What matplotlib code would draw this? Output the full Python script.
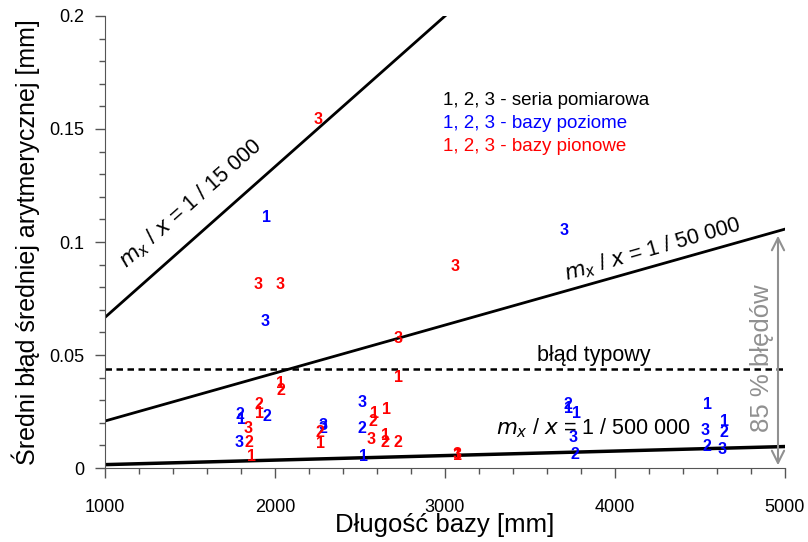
import matplotlib.pyplot as plt
from matplotlib.ticker import MultipleLocator, FormatStrFormatter

plt.rcParams['font.family'] = ['Liberation Sans', 'DejaVu Sans']

# reference lines  (mm -> mm)
line_x = [1000, 5000]
line_15k = [1000 / 15000.0, 5000 / 15000.0]
line_50k = [0.0208, 0.1057]
line_500k = [0.0015, 0.0095]
typical_err = 0.0438

# bazy poziome (blue): x, y, series number
blue_x = [1947, 1941, 3700, 1794, 1800, 1953, 1788, 2282, 2282, 2512, 2512, 2518,
          3724, 3724, 3776, 3753, 3765, 4547, 4529, 4647, 4641, 4541, 4629]
blue_y = [0.111, 0.065, 0.105, 0.0238, 0.0215, 0.023, 0.0115, 0.019, 0.0175, 0.0288, 0.0177, 0.0049,
          0.0283, 0.0265, 0.0243, 0.0137, 0.0058, 0.0283, 0.0168, 0.0204, 0.0155, 0.0093, 0.008]
blue_lab = ['1', '3', '3', '2', '1', '2', '3', '3', '2', '3', '2', '1',
            '2', '1', '1', '3', '2', '1', '3', '1', '2', '2', '3']

# bazy pionowe (red)
red_x = [2253, 1900, 2029, 3059, 2724, 2729, 2035, 2035, 1906, 1906, 1841, 1847, 1859,
         2265, 2265, 2588, 2653, 2576, 2565, 2647, 2647, 2724, 3071, 3071]
red_y = [0.154, 0.081, 0.081, 0.089, 0.0575, 0.040, 0.0375, 0.0345, 0.0283, 0.0239, 0.0173, 0.0115, 0.0053,
         0.0155, 0.011, 0.0243, 0.026, 0.0204, 0.0128, 0.0143, 0.0115, 0.0115, 0.0058, 0.0055]
red_lab = ['3', '3', '3', '3', '3', '1', '1', '2', '2', '1', '3', '2', '1',
           '2', '1', '1', '1', '2', '3', '1', '2', '2', '3', '1']

fig = plt.figure(figsize=(8.08, 5.42), dpi=100)
ax = fig.add_axes([0.130, 0.1365, 0.8415, 0.834])

ax.plot(line_x, line_15k, color='black', lw=2)
ax.plot(line_x, line_50k, color='black', lw=2)
ax.plot(line_x, line_500k, color='black', lw=2.5)
ax.axhline(typical_err, color='black', lw=1.8, ls=(0, (2.6, 1.8)))

for x, y, s in zip(blue_x, blue_y, blue_lab):
    ax.text(x, y, s, color='#0000ff', fontsize=11.5, fontweight='bold', ha='center', va='center')
for x, y, s in zip(red_x, red_y, red_lab):
    ax.text(x, y, s, color='#ff0000', fontsize=11.5, fontweight='bold', ha='center', va='center')

# line labels
ax.text(1500, 0.1170, r'$m_x$ / $x$ = 1 / 15 000', rotation=41.5, fontsize=15.5,
        ha='center', va='center', rotation_mode='anchor')
ax.text(4218, 0.0965, r'$m_x$ / $x$ = 1 / 50 000', rotation=16, fontsize=15.5,
        ha='center', va='center', rotation_mode='anchor')
ax.text(3871, 0.0177, r'$m_x$ / $x$ = 1 / 500 000', fontsize=15.5, ha='center', va='center')
ax.text(3876, 0.0496, 'błąd typowy', fontsize=15.5, ha='center', va='center')

# legend-like text
ax.text(2990, 0.1625, '1, 2, 3 - seria pomiarowa', color='black', fontsize=13.5, va='center')
ax.text(2990, 0.1525, '1, 2, 3 - bazy poziome', color='#0000ff', fontsize=13.5, va='center')
ax.text(2990, 0.1423, '1, 2, 3 - bazy pionowe', color='#ff0000', fontsize=13.5, va='center')

# 85 % arrow
ax.annotate('', xy=(4959, 0.0), xytext=(4959, 0.104),
            arrowprops=dict(arrowstyle='<->', color='#909090', lw=1.5, mutation_scale=22))
ax.text(4862, 0.0487, '85 % błędów', color='#909090', fontsize=18.5, rotation=90,
        ha='center', va='center')

ax.set_xlim(1000, 5000)
ax.set_ylim(0, 0.2)
ax.xaxis.set_major_locator(MultipleLocator(1000))
ax.xaxis.set_minor_locator(MultipleLocator(200))
ax.yaxis.set_major_locator(MultipleLocator(0.05))
ax.yaxis.set_minor_locator(MultipleLocator(0.01))
ax.yaxis.set_major_formatter(FormatStrFormatter('%g'))
ax.tick_params(which='major', direction='out', length=7.2, width=1, color='#555555', labelsize=13)
ax.tick_params(which='minor', direction='out', length=4.3, width=1, color='#555555')
ax.tick_params(axis='x', which='major', pad=15)
ax.tick_params(axis='y', which='major', pad=8)
for side in ['top', 'right']:
    ax.spines[side].set_visible(False)
for side in ['left', 'bottom']:
    ax.spines[side].set_color('#555555')

ax.set_xlabel('Długość bazy [mm]', fontsize=18.5, labelpad=-2)
ax.set_ylabel('Średni błąd średniej arytmerycznej [mm]', fontsize=18, labelpad=6)

fig.savefig('out.png', dpi=100)
